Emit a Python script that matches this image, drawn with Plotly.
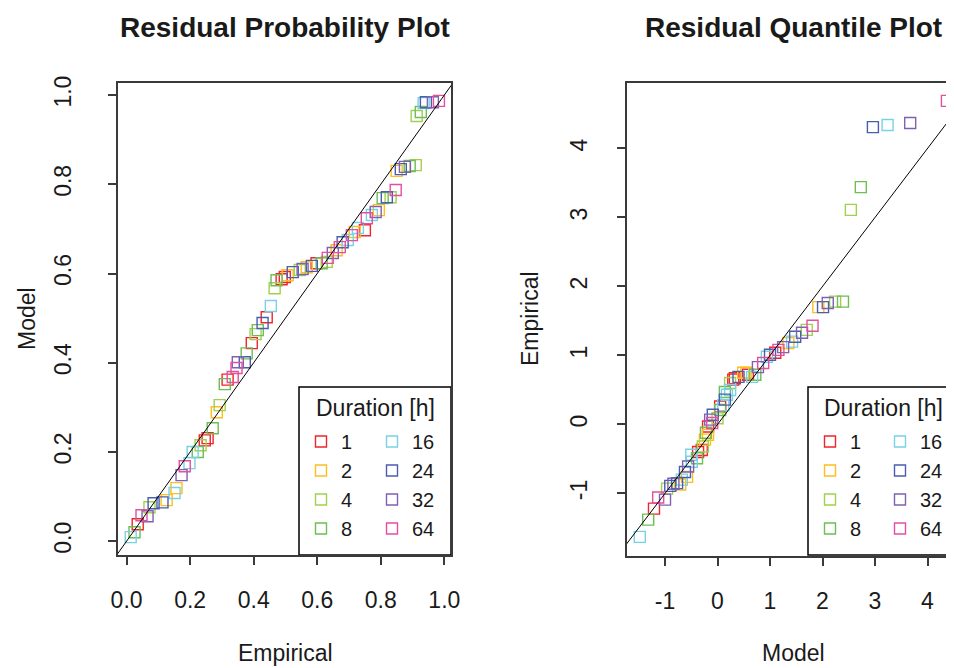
import plotly.graph_objects as go

# Durations and their colours
DURATIONS = [1, 2, 4, 8, 16, 24, 32, 64]
COLORS = ["#F0252C", "#FDBE1E", "#A2D04E", "#6CBE55", "#78D2E4", "#4A5EAE", "#8060B0", "#E4509E"]

# Residual probability plot: empirical vs model probability, with duration of each point
PROB_EMPIRICAL = [0.013, 0.025, 0.035, 0.047, 0.066, 0.072, 0.085, 0.113, 0.126, 0.151,
                  0.157, 0.173, 0.183, 0.198, 0.208, 0.224, 0.233, 0.246, 0.255, 0.271,
                  0.284, 0.293, 0.309, 0.318, 0.334, 0.346, 0.350, 0.372, 0.378, 0.394,
                  0.406, 0.413, 0.428, 0.441, 0.454, 0.466, 0.472, 0.488, 0.498, 0.507,
                  0.523, 0.545, 0.554, 0.567, 0.583, 0.598, 0.614, 0.630, 0.633, 0.649,
                  0.661, 0.671, 0.680, 0.696, 0.709, 0.718, 0.728, 0.750, 0.756, 0.772,
                  0.784, 0.794, 0.806, 0.819, 0.831, 0.847, 0.850, 0.863, 0.876, 0.891,
                  0.910, 0.913, 0.926, 0.935, 0.942, 0.964, 0.983]
PROB_MODEL = [0.009, 0.020, 0.038, 0.058, 0.056, 0.076, 0.085, 0.087, 0.092, 0.108,
              0.119, 0.148, 0.168, 0.175, 0.200, 0.200, 0.215, 0.226, 0.231, 0.253,
              0.289, 0.305, 0.352, 0.362, 0.368, 0.388, 0.401, 0.401, 0.421, 0.444,
              0.464, 0.473, 0.489, 0.502, 0.527, 0.567, 0.585, 0.587, 0.592, 0.596,
              0.603, 0.608, 0.610, 0.614, 0.617, 0.623, 0.623, 0.626, 0.635, 0.646,
              0.652, 0.659, 0.670, 0.675, 0.686, 0.693, 0.702, 0.697, 0.724, 0.731,
              0.738, 0.742, 0.769, 0.771, 0.771, 0.787, 0.830, 0.834, 0.839, 0.841,
              0.843, 0.953, 0.962, 0.982, 0.984, 0.984, 0.987]
PROB_DURATION = [16, 8, 1, 64, 32, 4, 24, 24, 2, 16,
                 2, 32, 64, 16, 16, 8, 4, 1, 1, 8,
                 2, 4, 8, 1, 64, 64, 32, 24, 8, 1,
                 4, 8, 24, 1, 16, 4, 8, 1, 1, 2,
                 24, 4, 32, 2, 24, 1, 8, 4, 64, 32,
                 2, 64, 24, 16, 64, 2, 16, 1, 64, 16,
                 32, 2, 8, 24, 4, 64, 2, 24, 32, 8,
                 4, 4, 8, 16, 24, 32, 64]

# Residual quantile plot: model vs empirical quantile, with duration of each point
QQ_MODEL = [-1.48, -1.32, -1.21, -1.13, -1.00, -0.96, -0.90, -0.84, -0.77, -0.71,
            -0.68, -0.58, -0.62, -0.56, -0.49, -0.39, -0.50, -0.37, -0.30, -0.28,
            -0.24, -0.22, -0.18, -0.18, -0.10, -0.14, -0.09, 0.00, 0.05, 0.05,
            0.11, 0.14, 0.18, 0.14, 0.24, 0.24, 0.30, 0.33, 0.40, 0.49,
            0.55, 0.58, 0.66, 0.72, 0.77, 0.87, 0.94, 1.00, 1.10, 1.16,
            1.25, 1.35, 1.42, 1.48, 1.61, 1.70, 1.81, 1.92, 2.01, 2.10,
            2.24, 2.39, 2.54, 2.73, 2.96, 3.24, 3.67, 4.37]
QQ_EMPIRICAL = [-1.63, -1.38, -1.22, -1.06, -1.09, -0.93, -0.89, -0.86, -0.85, -0.87,
                -0.80, -0.76, -0.69, -0.61, -0.54, -0.49, -0.44, -0.40, -0.37, -0.32,
                -0.22, -0.12, -0.15, -0.03, 0.02, 0.07, 0.14, 0.09, 0.21, 0.26,
                0.28, 0.36, 0.43, 0.47, 0.50, 0.60, 0.65, 0.67, 0.69, 0.75,
                0.75, 0.72, 0.69, 0.72, 0.83, 0.89, 0.98, 1.01, 1.04, 1.08,
                1.12, 1.18, 1.20, 1.27, 1.33, 1.37, 1.43, 1.70, 1.70, 1.76,
                1.78, 1.78, 3.11, 3.44, 4.31, 4.34, 4.37, 4.69]
QQ_DURATION = [16, 8, 1, 64, 32, 4, 24, 32, 24, 2,
               16, 2, 24, 32, 16, 8, 16, 1, 1, 4,
               2, 8, 2, 1, 64, 32, 24, 4, 8, 1,
               16, 24, 16, 8, 16, 4, 1, 1, 24, 2,
               2, 1, 16, 8, 32, 64, 16, 24, 1, 64,
               32, 2, 16, 24, 32, 4, 64, 2, 24, 32,
               4, 8, 4, 8, 24, 16, 32, 64]

PROB_TICKS = [0, 0.2, 0.4, 0.6, 0.8, 1.0]
QQ_TICKS = [-1, 0, 1, 2, 3, 4]
QQ_TICK_LABELS = ["-1", "0", "1", "2", "3", "4"]

REF_LINE = [-5, 10]

FONT = "Liberation Sans, Arial, sans-serif"
INK = "#1a1a1a"
AXIS_COLOR = "#3a3a3a"

W, H = 954, 668
PAGE_MARGIN = 8  # default body margin of the html page


def px_x(p):
    return (p - PAGE_MARGIN) / W


def px_y(p):
    return 1 - (p - PAGE_MARGIN) / H


fig = go.Figure()

# Points
for plot_idx, (xs, ys, ds) in enumerate([(PROB_EMPIRICAL, PROB_MODEL, PROB_DURATION),
                                         (QQ_MODEL, QQ_EMPIRICAL, QQ_DURATION)]):
    xa = "x" if plot_idx == 0 else "x2"
    ya = "y" if plot_idx == 0 else "y2"
    for i, (dur, col) in enumerate(zip(DURATIONS, COLORS)):
        sel = [k for k, d in enumerate(ds) if d == dur]
        legend_name = ["legend", "legend2", "legend3", "legend4"][plot_idx * 2 + (i // 4)]
        fig.add_trace(go.Scatter(
            x=[xs[k] for k in sel],
            y=[ys[k] for k in sel],
            mode="markers",
            name=str(dur),
            marker=dict(symbol="square-open", size=11, color=col, line=dict(width=1.4, color=col)),
            xaxis=xa, yaxis=ya,
            legend=legend_name,
            showlegend=True,
            hovertemplate="Duration %{fullData.name} h<br>(%{x}, %{y})<extra></extra>",
        ))

# 1:1 reference lines
for xa, ya in [("x", "y"), ("x2", "y2")]:
    fig.add_trace(go.Scatter(
        x=REF_LINE, y=REF_LINE, mode="lines",
        line=dict(color="black", width=1),
        xaxis=xa, yaxis=ya, showlegend=False, hoverinfo="skip",
    ))

axis_common = dict(
    showline=True, linecolor=AXIS_COLOR, linewidth=1.5,
    ticks="outside", ticklen=8, tickwidth=1.5, tickcolor=AXIS_COLOR,
    showgrid=False, zeroline=False, automargin=False,
    tickfont=dict(family=FONT, size=23, color=INK),
)

fig.update_layout(
    width=W, height=H,
    margin=dict(l=0, r=0, t=0, b=0, pad=0, autoexpand=False),
    plot_bgcolor="white", paper_bgcolor="white",
    font=dict(family=FONT, size=23, color=INK),
    xaxis=dict(domain=[px_x(118), px_x(451)], range=[-0.027, 1.021], anchor="y",
               tickvals=PROB_TICKS, tickformat=".1f", mirror=True, ticklabelstandoff=16,
               **axis_common),
    yaxis=dict(domain=[px_y(555), px_y(83)], range=[-0.031, 1.027], anchor="x",
               tickvals=PROB_TICKS, tickformat=".1f", tickangle=-90, ticklabelstandoff=28,
               mirror=True, **axis_common),
    xaxis2=dict(domain=[px_x(627), px_x(959)], range=[-1.724, 4.60], anchor="y2",
                tickvals=QQ_TICKS, ticktext=QQ_TICK_LABELS, mirror=True, ticklabelstandoff=16,
                **axis_common),
    yaxis2=dict(domain=[px_y(556), px_y(83)], range=[-1.907, 4.949], anchor="x2",
                tickvals=QQ_TICKS, ticktext=QQ_TICK_LABELS, tickangle=-90, ticklabelstandoff=21,
                mirror=True, **axis_common),
)

# Legends: two columns per plot
legend_style = dict(
    xanchor="left", yanchor="top", bgcolor="rgba(0,0,0,0)", borderwidth=0,
    font=dict(family=FONT, size=20, color=INK), tracegroupgap=0, itemclick=False,
)
fig.update_layout(
    legend=dict(x=px_x(301), y=px_y(422), **legend_style),
    legend2=dict(x=px_x(372), y=px_y(422), **legend_style),
    legend3=dict(x=px_x(810), y=px_y(422), **legend_style),
    legend4=dict(x=px_x(880), y=px_y(422), **legend_style),
)

# Legend frames
for x0, x1 in [(299, 451), (808, 959)]:
    fig.add_shape(type="rect", xref="paper", yref="paper",
                  x0=px_x(x0), x1=px_x(x1), y0=px_y(555), y1=px_y(387),
                  line=dict(color="black", width=1.5), fillcolor="white", layer="below")

annotations = [
    ("<b>Residual Probability Plot</b>", 285, 27, 0, 28),
    ("<b>Residual Quantile Plot</b>", 793, 27, 0, 28),
    ("Empirical", 285, 653, 0, 23),
    ("Model", 793, 653, 0, 23),
    ("Model", 27, 319, -90, 23),
    ("Empirical", 530, 319, -90, 23),
    ("Duration [h]", 375, 408, 0, 23),
    ("Duration [h]", 883, 408, 0, 23),
]
for text, x, y, ang, size in annotations:
    fig.add_annotation(text=text, xref="paper", yref="paper", x=px_x(x), y=px_y(y),
                       xanchor="center", yanchor="middle", textangle=ang, showarrow=False,
                       font=dict(family=FONT, size=size, color=INK))

fig.write_html("out.html")
